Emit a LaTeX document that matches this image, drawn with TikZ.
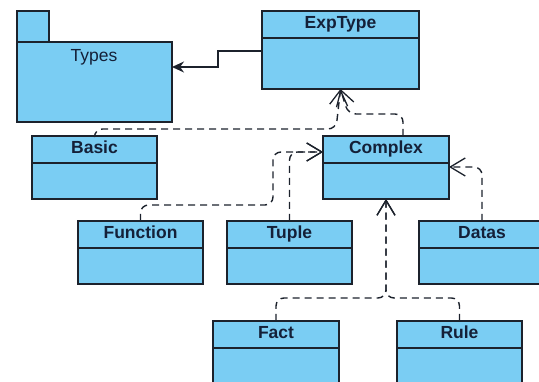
\documentclass[tikz,border=0pt]{standalone}
\usepackage{fontspec}
\setmainfont{Liberation Sans}
\usetikzlibrary{arrows.meta,calc}
\definecolor{umlfill}{RGB}{122,205,243}
\definecolor{umlline}{RGB}{28,34,44}
\definecolor{umltext}{RGB}{20,32,56}
\tikzset{
  clsbox/.style={draw=umlline,fill=umlfill,line width=1.3pt,inner sep=0pt,outer sep=0pt,rectangle},
  boxline/.style={draw=umlline,line width=1.3pt},
  clslabel/.style={text=umltext,font=\fontsize{17.5}{20}\selectfont\bfseries,inner sep=0pt,text height=12.5pt,text depth=3.5pt},
  pkglabel/.style={text=umltext,font=\fontsize{17.5}{20}\selectfont,inner sep=0pt,text height=12.5pt,text depth=3.5pt},
  realize/.style={draw=umlline,line width=1.4pt,dash pattern=on 7pt off 5pt,rounded corners=8pt,
    -{Straight Barb[length=15pt,width=18pt,line width=1.3pt]}},
  assoc/.style={draw=umlline,line width=1.3pt,-{Stealth[length=12pt,width=11pt]}}
}
\newcommand\umlcls[7]{%
  \node[clsbox,anchor=north west,minimum width={(#4-#2)*1pt},minimum height={(#6-#3)*1pt}] (#1) at (#2,#3) {};
  \draw[boxline] (#2,#5) -- (#4,#5);
  \node[clslabel] (#1-label) at ({(#2+#4)/2},{(#3+#5)/2}) {#7};
}
\begin{document}
\begin{tikzpicture}[x=1pt,y=-1pt]
\useasboundingbox (0,0) rectangle (539,382);
\clip (0,0) rectangle (539,382);
% package Types
\node[clsbox,anchor=north west,minimum width=32pt,minimum height=31pt] (typestab) at (17,11) {};
\node[clsbox,anchor=north west,minimum width=155pt,minimum height=80pt] (types) at (17,42) {};
\node[pkglabel] (types-label) at (94,57) {Types};
% classes
\umlcls{exptype}{262}{11}{419}{38}{89}{ExpType}
\umlcls{basic}{32}{136}{157}{163}{199}{Basic}
\umlcls{complex}{323}{136}{449}{163}{199}{Complex}
\umlcls{function}{78}{221}{203}{248}{284}{Function}
\umlcls{tuple}{227}{221}{352}{248}{284}{Tuple}
\umlcls{datas}{419}{221}{545}{248}{284}{Datas}
\umlcls{fact}{213}{321}{339}{348}{390}{Fact}
\umlcls{rule}{397}{321}{522}{348}{390}{Rule}
% association
\draw[assoc] ($(exptype.north west)+(0,40)$) -- ++(-44,0) |- (types.east |- 0,67);
% realizations to ExpType
\draw[realize] (basic.north) |- (336,129) -- (exptype.south);
\draw[realize] ($(complex.north)+(17,0)$) |- (348,114) -- (exptype.south);
% to Complex
\draw[realize] (function.north) |- (273,205) |- (complex.west |- 0,152);
\draw[realize] (tuple.north) |- (complex.west |- 0,152);
\draw[realize] (datas.north) |- (complex.east |- 0,167);
\draw[realize] (fact.north) |- (386,298) -- (complex.south);
\draw[realize] (rule.north) |- (386,298) -- (complex.south);
\end{tikzpicture}
\end{document}
